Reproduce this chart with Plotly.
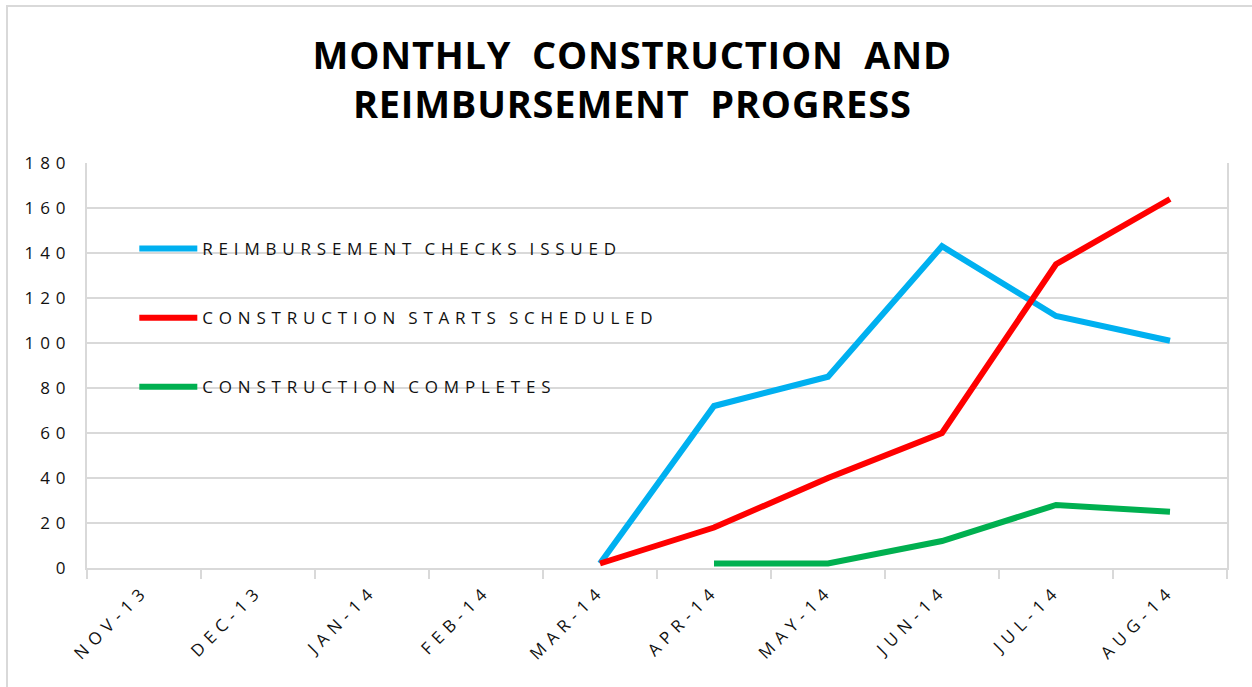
import plotly.graph_objects as go

months = ["NOV-13", "DEC-13", "JAN-14", "FEB-14", "MAR-14", "APR-14",
          "MAY-14", "JUN-14", "JUL-14", "AUG-14"]
reimbursement_checks = [None, None, None, None, 2, 72, 85, 143, 112, 101]
construction_starts = [None, None, None, None, 2, 18, 40, 60, 135, 164]
construction_completes = [None, None, None, None, None, 2, 2, 12, 28, 25]

series_names = ["REIMBURSEMENT CHECKS ISSUED", "CONSTRUCTION STARTS SCHEDULED",
                "CONSTRUCTION COMPLETES"]
series_colors = ["#00B0F0", "#FF0000", "#00B050"]
series_values = [reimbursement_checks, construction_starts, construction_completes]

fig = go.Figure()
for i, (name, vals, col) in enumerate(zip(series_names, series_values, series_colors)):
    fig.add_trace(go.Scatter(
        x=months, y=vals, name=name, mode="lines",
        line=dict(color=col, width=6), legendgroup=f"g{i}",
    ))

FONT = "Open Sans"
TXT = "#111111"
fig.update_layout(
    width=1252, height=687,
    margin=dict(l=87, r=25, t=163, b=119),
    paper_bgcolor="white", plot_bgcolor="white",
    title=dict(
        text="MONTHLY CONSTRUCTION AND<br>REIMBURSEMENT PROGRESS",
        x=0.505, xanchor="center", y=0.90, yanchor="top",
        font=dict(family=FONT, size=38, color="#000000", weight="bold"),
    ),
    showlegend=True,
    legend=dict(
        x=0.0415, y=0.832, xanchor="left", yanchor="top",
        bgcolor="rgba(0,0,0,0)", borderwidth=0,
        font=dict(family=FONT, size=17, color=TXT),
        itemwidth=58, tracegroupgap=44, traceorder="grouped",
    ),
    xaxis=dict(
        type="category", tickson="boundaries", ticks="outside", ticklen=9,
        tickcolor="#d9d9d9", tickwidth=2, showline=True, linecolor="#d9d9d9",
        linewidth=2, showgrid=False, tickangle=-45,
        tickfont=dict(family=FONT, size=17, color=TXT),
        range=[-0.5, 9.5], ticklabelstandoff=4,
    ),
    yaxis=dict(
        range=[0, 180], dtick=20, showgrid=True, gridcolor="#d9d9d9", gridwidth=2,
        showline=True, linecolor="#d9d9d9", linewidth=2, mirror=True,
        zeroline=False, ticks="", ticklabelstandoff=10,
        tickfont=dict(family=FONT, size=17, color=TXT),
    ),
    shapes=[
        dict(type="rect", xref="paper", yref="paper",
             x0=(7 - 87) / 1140, x1=(1270 - 87) / 1140,
             y0=(568 - 700) / 405, y1=(568 - 6) / 405,
             line=dict(color="#d9d9d9", width=2), fillcolor="rgba(0,0,0,0)",
             layer="below"),
        dict(type="rect", xref="paper", yref="paper",
             x0=(112 - 87) / 1140, x1=(681 - 87) / 1140,
             y0=(568 - 420) / 405, y1=(568 - 218) / 405,
             line=dict(width=0), fillcolor="white", layer="between"),
    ],
)

post = """
var gd = document.getElementById('{plot_id}');
function sp(){
  gd.querySelectorAll('.legend .scrollbox').forEach(function(e){e.removeAttribute('clip-path');});
  gd.querySelectorAll('.legendtext').forEach(function(e){e.style.letterSpacing='5.8px'; e.style.wordSpacing='-3px';});
  gd.querySelectorAll('.ytick text').forEach(function(e){e.style.letterSpacing='6px';});
  gd.querySelectorAll('.xtick text').forEach(function(e){e.style.letterSpacing='6px';});
  gd.querySelectorAll('.gtitle').forEach(function(e){e.style.letterSpacing='0.8px'; e.style.wordSpacing='10px';});
}
sp();
gd.on('plotly_afterplot', sp);
"""
fig.write_html("out.html", post_script=post)
